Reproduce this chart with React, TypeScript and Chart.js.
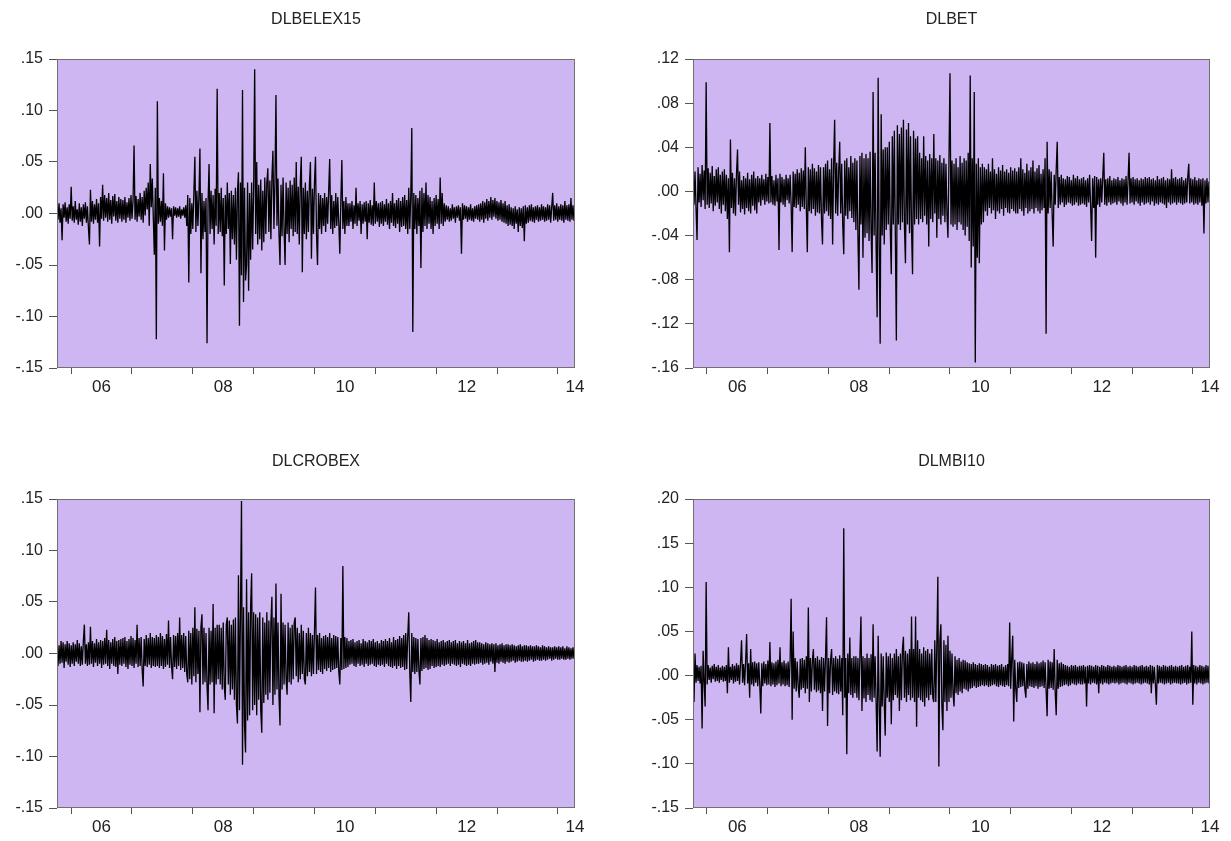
import React, { useEffect, useRef } from "react";
import { Chart, registerables } from "chart.js";

Chart.register(...registerables);

// ---- x axis (dates in fractional years) ----
const FIRST_OBS = 2005.77;
const LAST_OBS = 2014.28;
const YEAR_MARKS = [2006, 2007, 2008, 2009, 2010, 2011, 2012, 2013, 2014];
const YEAR_LABEL_AT = [2006.5, 2008.5, 2010.5, 2012.5, LAST_OBS];
const YEAR_LABELS = ["06", "08", "10", "12", "14"];

// ---- y tick values ----
const Y_TICKS_15 = [-0.15, -0.1, -0.05, 0, 0.05, 0.1, 0.15];
const Y_TICKS_BET = [-0.16, -0.12, -0.08, -0.04, 0, 0.04, 0.08, 0.12];
const Y_TICKS_MBI = [-0.15, -0.1, -0.05, 0, 0.05, 0.1, 0.15, 0.2];

const DLBELEX15 = [
  .008,-.006,.01,-.009,.005,-.026,.009,-.004,.011,-.008,.006,-.01,.009,-.005,.026,-.007,.007,-.009,.012,-.006,.004,-.011,.01,-.008,.006,-.012,.009,-.005,.011,-.009,.007,-.014,
  -.03,.023,-.008,.012,-.01,.009,-.006,.014,-.009,.01,-.032,.016,-.005,.028,-.007,.018,-.004,.015,-.008,.02,-.006,.013,-.01,.017,-.003,.019,-.007,.012,-.009,.016,-.005,.014,
  -.008,.013,-.006,.016,-.009,.011,-.004,.015,-.007,.018,-.005,.012,.066,-.006,.017,-.008,.014,-.003,.02,-.006,.016,-.009,.022,-.002,.025,.004,.03,-.012,.048,.006,.034,-.004,
  -.04,.025,-.122,.109,-.01,.015,-.008,.012,-.012,.039,-.036,.01,-.006,.007,-.004,.006,-.003,.005,-.025,.007,-.002,.006,-.004,.005,-.003,.007,-.005,.004,-.002,.006,-.004,.008,
  -.012,.018,-.067,.015,-.02,.01,-.015,.02,.055,-.018,.022,-.012,.016,.063,-.058,.02,-.025,.012,-.018,.015,-.126,.01,.048,-.02,.022,-.015,.018,-.03,.024,-.012,.121,-.02,
  .02,-.018,.025,-.022,.015,-.07,.018,-.02,.03,-.015,.02,-.049,.022,-.025,.018,-.03,.025,-.045,.02,.04,-.109,.03,-.06,.12,-.086,.025,-.065,-.05,.03,-.075,.02,-.045,
  .03,-.035,.025,.14,-.02,.05,-.03,.028,-.025,.033,-.036,.022,-.028,.035,-.02,.03,.044,-.018,.032,-.025,.035,.061,-.015,.03,.115,-.012,.034,-.02,-.05,.028,-.022,.035,
  -.015,-.05,.03,-.02,.025,-.028,.032,-.015,.028,-.022,.035,-.018,.05,-.02,.026,-.03,.03,.055,-.057,.025,-.02,.03,-.025,.022,-.018,.028,.05,-.044,.024,-.02,.03,.055,
  -.02,-.05,.02,-.015,.018,-.02,.015,-.012,.02,-.018,.016,-.01,.022,.053,-.015,.018,-.02,.012,-.014,.02,-.012,.016,-.01,-.039,.012,.052,-.015,.012,-.02,.016,-.012,.01,
  -.012,.01,-.008,.012,-.015,.008,-.01,.025,-.012,.01,-.007,.012,-.02,.009,-.01,.011,-.008,.012,-.025,.01,-.009,.013,-.011,.008,-.012,.03,-.01,.012,-.008,.01,-.013,.011,
  -.01,.012,-.012,.009,-.008,.014,-.011,.01,-.015,.012,-.009,.02,-.012,.01,-.014,.013,-.01,.015,-.018,.012,-.013,.016,-.012,.018,-.015,.013,-.02,.025,-.015,.018,.083,-.115,
  .02,-.015,.018,-.02,.015,-.012,.022,-.053,.025,-.018,.02,-.012,.03,-.015,.018,-.01,.016,-.015,.012,-.02,.015,-.012,.018,-.01,.014,-.015,.035,-.01,.02,-.012,.01,-.008,
  .008,-.006,.007,-.008,.005,-.007,.009,-.005,.006,-.009,.007,-.004,.008,-.007,.006,-.039,.01,-.006,.008,-.005,.007,-.008,.006,-.006,.009,-.007,.005,-.008,.007,-.005,.008,-.006,
  .009,-.008,.01,-.006,.012,-.009,.011,-.005,.014,-.007,.012,-.004,.016,-.006,.013,-.003,.015,-.005,.012,-.007,.011,-.006,.013,-.008,.01,-.009,.012,-.01,.008,-.012,.009,-.011,
  .006,-.012,.005,-.015,.007,-.01,.004,-.018,.006,-.012,.005,-.014,.007,-.027,.008,-.01,.006,-.009,.008,-.007,.009,-.008,.006,-.009,.007,-.006,.008,-.008,.006,-.007,.009,-.006,
  .007,-.008,.006,-.007,.009,-.006,.008,-.009,.006,.02,-.007,.008,-.006,.01,-.008,.007,-.006,.009,-.007,.008,-.009,.012,-.006,.008,-.007,.009,-.008,.015,-.006,.008,-.007,.005,
];

const DLBET = [
  .02,-.012,.018,-.015,-.044,.022,-.01,.016,-.014,.024,-.008,.019,-.016,.099,-.012,.021,-.015,.017,-.011,.023,-.018,.014,-.013,.02,-.01,.022,-.016,.015,-.02,.018,-.012,.02,
  -.018,.015,-.025,.012,-.055,.047,-.015,.017,-.02,.012,-.022,.016,.038,-.012,.018,-.019,.01,-.016,.014,-.021,.012,-.015,.017,-.018,.011,-.02,.015,-.013,.018,-.017,.012,-.02,
  .014,-.01,.012,-.013,.015,-.008,.011,-.012,.016,-.009,.013,-.011,.062,-.01,.014,-.012,.01,-.013,.015,-.009,.012,-.053,.016,-.01,.013,-.012,.011,-.014,.015,-.008,.012,-.011,
  .015,-.012,-.055,.018,-.014,.016,-.015,.02,-.012,.017,-.018,.021,-.014,.019,-.016,.04,-.015,-.055,.022,-.018,.02,-.02,.025,-.016,.021,-.022,.018,-.019,.024,-.02,.022,-.025,
  -.048,.022,-.02,.025,-.018,.028,-.022,.02,-.025,.03,-.048,.024,.065,-.02,.026,-.022,.018,.045,-.02,.025,-.03,-.057,.028,-.022,.03,-.025,.022,-.018,.032,-.024,.026,-.028,
  .03,-.035,.028,-.04,-.089,.032,-.03,.035,-.06,.03,-.042,.034,-.038,.03,-.045,.036,-.035,-.074,.09,-.04,.035,-.05,-.114,.103,-.045,-.138,.07,-.04,.038,-.048,.04,-.035,
  .04,-.03,.045,-.035,-.075,.05,-.03,.055,-.04,-.135,.06,-.03,.052,-.035,.058,-.028,.065,-.032,-.065,.056,-.03,.062,-.038,.05,-.035,-.075,.055,-.03,.048,-.025,.05,-.03,
  .035,-.025,.03,-.028,.05,-.022,.032,-.03,.028,-.05,.034,-.025,.03,-.028,.052,-.02,.03,-.042,.028,-.025,.033,-.03,.026,-.022,.03,-.028,.025,-.02,-.042,.028,.107,-.03,
  .028,-.032,.025,-.03,.03,-.035,.022,-.028,.032,-.03,.026,-.035,.03,-.04,.028,-.032,.035,-.045,.105,-.069,.03,-.05,.09,-.155,.025,-.06,.03,-.065,.022,-.03,.025,-.028,
  .022,-.018,.02,-.022,.025,-.015,.018,-.02,.03,-.017,.02,-.025,.016,-.018,.022,-.02,.019,-.016,.024,-.022,.018,-.015,.02,-.019,.017,-.02,.022,-.016,.019,-.018,.021,-.02,
  .018,-.02,.022,-.016,.03,-.018,.02,-.022,.017,-.015,.025,-.02,.019,-.018,.022,-.016,.028,-.02,.018,-.015,.021,-.018,.024,-.02,.016,-.017,.02,-.015,.03,-.129,.045,-.02,
  .02,-.015,.018,-.02,-.05,.015,-.012,.02,.045,-.015,.013,-.012,.015,-.01,.012,-.014,.011,-.012,.014,-.01,.013,-.011,.01,-.013,.015,-.012,.012,-.01,.014,-.013,.011,-.012,
  .012,-.011,.013,-.012,.01,-.014,.012,-.01,.015,-.013,-.045,.012,-.015,.014,-.06,.013,-.012,.011,-.014,.012,-.01,.013,.035,-.012,.011,-.013,.012,-.01,.014,-.012,.01,-.011,
  .012,-.01,.011,-.012,.013,-.009,.01,-.011,.012,-.013,.011,-.01,.014,-.012,.01,.035,-.011,.012,-.01,.013,-.012,.011,-.009,.012,-.011,.01,-.013,.012,-.01,.011,-.012,.013,
  -.011,.012,-.01,.013,-.012,.011,-.009,.012,-.013,.01,-.011,.014,-.012,.011,-.01,.012,-.011,.013,-.012,.01,-.015,.012,-.01,.011,-.012,.02,-.011,.012,-.01,.013,-.012,.011,
  -.01,.012,-.011,.013,-.012,.01,-.011,.012,-.01,.013,.025,-.011,.012,-.01,.011,-.012,.013,-.011,.01,-.012,.012,-.01,.011,-.013,.012,-.038,.01,-.011,.012,-.01,.009,-.008,
];

const DLCROBEX = [
  .01,-.012,.008,-.01,.012,-.009,.011,-.014,.009,-.008,.012,-.011,.01,-.013,.008,-.01,.011,-.012,.009,-.008,.013,-.01,.01,-.012,.007,-.011,.012,.028,-.01,.009,-.012,.011,
  -.011,.026,-.01,.012,-.013,.01,-.009,.014,-.012,.011,-.01,.013,-.014,.012,-.011,.015,-.01,.023,-.012,.013,-.015,.011,-.01,.014,-.012,.016,-.013,.012,-.02,.013,-.011,.014,
  -.012,.015,-.01,.016,-.013,.012,-.015,.014,-.011,.017,-.012,.015,-.014,.013,-.01,.028,-.013,.015,-.012,.016,-.015,-.032,.014,-.012,.018,-.013,.015,-.011,.02,-.014,.016,-.012,
  .015,-.013,.018,-.012,.016,-.014,.02,-.012,.017,-.015,.014,-.013,.019,-.011,.032,-.014,.016,-.012,-.025,.018,-.013,.017,-.015,.02,-.012,.035,-.016,.018,-.014,.02,-.018,.017,
  -.02,-.028,.022,-.025,.02,-.03,.025,-.022,.045,-.028,.024,-.02,.022,-.057,.026,.038,-.03,.025,-.028,.02,-.032,-.055,.025,-.03,.022,-.028,.048,-.058,.025,-.03,.028,-.025,
  .028,-.03,.025,-.035,.03,-.032,-.045,.028,.035,-.03,.032,-.04,.028,-.035,.033,-.045,.035,-.05,-.068,.076,-.055,.04,.148,-.108,.045,-.07,-.096,.072,-.065,.04,-.06,.045,
  .078,-.055,.04,-.05,.038,-.06,.035,-.045,.04,-.055,-.077,.035,-.048,.03,-.04,.04,-.045,.032,-.038,.03,.055,-.05,.035,-.04,.068,-.035,.03,-.042,-.07,.058,-.035,.03,
  -.03,.028,-.025,-.04,.03,-.028,.025,-.03,.028,-.025,.03,.035,-.022,.025,-.028,.02,-.025,.028,-.02,.022,-.025,-.03,.02,-.022,.025,-.018,.02,-.022,.018,-.02,.022,.064,
  -.02,.018,-.016,.02,-.018,.015,-.02,.017,-.015,.018,-.017,.016,-.014,.02,-.018,.015,-.016,.018,-.015,.017,-.014,.016,-.018,-.03,.015,-.016,.085,-.015,.016,-.014,.015,-.013,
  .012,-.011,.013,-.01,.014,-.012,.011,-.013,.012,-.01,.013,-.012,.01,-.011,.014,-.013,.012,-.01,.011,-.012,.013,-.011,.012,-.01,.014,-.012,.011,-.013,.012,-.011,.01,-.012,
  .013,-.011,.012,-.013,.014,-.01,.012,-.012,.015,-.013,.011,-.014,.016,-.012,.013,-.015,.014,-.012,.017,-.014,.015,-.013,.018,-.016,.02,-.015,.017,.04,-.018,-.047,.02,-.018,
  .016,-.02,.015,-.018,.014,-.016,-.03,.015,-.017,.016,-.015,.018,-.014,.015,-.016,.013,-.015,.014,-.012,.013,-.014,.012,-.013,.014,-.012,.011,-.013,.012,-.011,.013,-.012,.011,
  -.011,.012,-.01,.013,-.012,.011,-.01,.012,-.011,.013,-.012,.01,-.011,.012,-.013,.011,-.01,.012,-.011,.01,-.012,.013,-.011,.01,-.012,.011,-.01,.012,-.011,.013,-.01,.011,
  -.01,.011,-.009,.01,-.011,.009,-.01,.011,-.009,.01,-.011,.009,-.008,.01,-.01,.009,-.018,.01,-.009,.008,-.01,.009,-.008,.01,-.009,.008,-.01,.009,-.008,.009,-.009,.008,
  -.008,.009,-.007,.008,-.009,.007,-.008,.008,-.007,.009,-.008,.007,-.008,.008,-.007,.008,-.008,.007,-.007,.008,-.006,.007,-.008,.007,-.007,.008,-.006,.007,-.007,.006,-.007,.008,
  -.006,.007,-.007,.006,-.006,.007,-.005,.006,-.007,.006,-.006,.007,-.005,.006,-.006,.007,-.006,.006,-.005,.007,-.006,.005,-.006,.007,-.005,.006,-.006,.005,-.005,.006,-.005,.005,
];

const DLMBI10 = [
  .02,-.03,.025,-.008,.012,-.006,.01,-.009,.011,-.06,.028,-.007,-.035,.106,-.01,.012,-.005,.009,-.008,.011,-.004,.013,-.007,.01,-.006,.012,-.008,.009,-.005,.011,-.007,.01,
  -.006,.012,-.02,.032,-.008,.01,-.005,.013,-.009,.011,-.007,.014,-.006,.012,-.01,.015,.04,-.008,.013,-.011,.016,.047,-.009,.014,-.025,.03,-.01,.015,-.012,.016,-.008,.014,
  -.012,.015,-.01,-.043,.014,-.012,.016,-.009,.013,-.011,.017,-.01,.038,-.012,.015,-.01,.014,-.013,.016,-.011,.018,-.009,.032,-.012,.015,-.01,.017,-.012,.014,-.011,.016,-.013,
  .018,.087,-.05,.05,-.015,.02,-.018,.016,-.012,-.025,.019,-.016,.02,-.014,.018,-.02,.022,-.015,.077,-.03,.02,-.018,.017,.03,-.016,.02,-.019,.022,-.017,.018,-.02,.021,
  -.04,.02,-.018,.022,.066,-.057,.02,-.02,.018,.03,-.022,.02,-.018,.022,-.02,.019,-.021,.023,-.018,.02,-.045,.167,-.025,.02,-.089,.025,-.02,.043,-.022,.02,-.025,.022,
  -.02,.022,-.025,.02,-.028,.024,.067,-.04,.022,-.026,.02,-.03,.025,-.022,.02,-.028,.024,-.03,.058,-.025,.022,-.03,-.086,.045,-.03,-.092,.025,-.035,.022,-.03,-.068,.026,
  -.025,.022,-.03,.025,-.055,.02,-.028,.025,-.022,.03,-.025,.022,-.04,.025,-.028,.03,.044,-.025,.028,-.03,.025,-.022,.03,-.028,.067,-.025,.03,-.03,.067,-.058,.04,-.025,
  .03,-.028,.025,-.03,.032,-.035,.028,-.025,.03,-.028,.025,-.022,.03,-.025,-.03,.04,-.03,.035,.112,-.103,.04,.058,-.035,-.062,.04,-.03,.035,-.04,.045,-.03,.028,-.025,
  .025,-.02,-.035,.022,-.02,.018,-.022,.02,-.018,.016,-.02,.018,-.015,.017,-.016,.015,-.018,.014,-.015,.013,-.014,.015,-.012,.013,-.014,.012,-.013,.014,-.012,.013,-.011,.012,
  -.012,.013,-.011,.012,-.013,.01,-.012,.013,-.011,.012,-.01,.013,-.012,.011,-.013,.012,-.011,.013,-.012,.01,-.013,.012,-.011,.013,-.012,.06,-.015,.02,.045,-.052,.018,-.015,
  -.03,.015,-.014,.016,-.013,.015,-.012,.014,-.015,-.025,.013,-.015,.016,-.012,.014,-.013,.015,-.014,.013,-.012,.016,-.015,.014,-.013,.015,-.012,.017,-.014,.015,-.016,-.046,.018,
  -.015,.016,-.014,.015,-.016,.03,-.018,-.045,.018,-.015,.014,-.013,.015,-.012,.013,-.011,.012,-.01,.011,-.012,.01,-.011,.012,-.009,.011,-.01,.012,-.011,.01,-.009,.011,-.01,
  .011,-.01,.012,-.009,.01,-.035,.011,-.009,.012,-.01,.011,-.008,.01,-.009,.012,-.01,.011,-.02,.01,-.009,.012,-.01,.011,-.008,.01,-.009,.012,-.01,.011,-.009,.01,-.008,
  .011,-.009,.01,-.008,.012,-.01,.011,-.009,.01,-.008,.011,-.009,.012,-.01,.01,-.008,.011,-.009,.01,-.01,.012,-.009,.011,-.008,.01,-.009,.011,-.01,.012,-.009,.01,-.008,
  .011,-.009,.01,-.01,.012,-.02,.011,-.009,.01,-.01,-.033,.012,-.009,.011,-.008,.01,-.009,.012,-.01,.011,-.009,.01,-.008,.011,-.01,.012,-.009,.01,-.008,.011,-.009,.01,
  -.009,.011,-.01,.012,-.009,.01,-.008,.011,-.01,.012,-.009,.01,-.008,.05,-.033,.012,-.009,.011,-.01,.01,-.008,.012,-.009,.011,-.01,.01,-.009,.012,-.008,.011,-.009,.008,
];

// ---- styling ----
const BG = "#CDB6F1";
const FRAME = "#707070";
const TICK_COLOR = "#555555";
const TEXT_COLOR = "#222222";
const LINE_COLOR = "#000000";
const FONT = "'Liberation Sans', Arial, Helvetica, sans-serif";

type PanelSpec = {
  title: string;
  values: number[];
  yTicks: number[];
  left: number;
  top: number;
  width: number;
  height: number;
  plotLeft: number;
  plotRight: number;
  plotTop: number;
  plotBottom: number;
  titleCenter: number;
};

const PANELS: PanelSpec[] = [
  { title: "DLBELEX15", values: DLBELEX15, yTicks: Y_TICKS_15, left: 0, top: 0, width: 615, height: 420,
    plotLeft: 57, plotRight: 575, plotTop: 59, plotBottom: 368, titleCenter: 20 },
  { title: "DLBET", values: DLBET, yTicks: Y_TICKS_BET, left: 616, top: 0, width: 615, height: 420,
    plotLeft: 77, plotRight: 594, plotTop: 59, plotBottom: 368, titleCenter: 20 },
  { title: "DLCROBEX", values: DLCROBEX, yTicks: Y_TICKS_15, left: 0, top: 440, width: 615, height: 401,
    plotLeft: 57, plotRight: 575, plotTop: 59, plotBottom: 368, titleCenter: 22 },
  { title: "DLMBI10", values: DLMBI10, yTicks: Y_TICKS_MBI, left: 616, top: 440, width: 615, height: 401,
    plotLeft: 77, plotRight: 594, plotTop: 59, plotBottom: 368, titleCenter: 22 },
];

function fmtY(v: number): string {
  const s = Number(v).toFixed(2);
  return s.replace(/^(-?)0\./, "$1.");
}

function xLabel(v: number): string {
  for (let k = 0; k < YEAR_LABEL_AT.length; k++) {
    if (Math.abs(YEAR_LABEL_AT[k] - v) < 1e-6) return YEAR_LABELS[k];
  }
  return "";
}

const framePlugin = {
  id: "frameBg",
  beforeDraw(chart: any) {
    const { ctx, chartArea: a } = chart;
    ctx.save();
    ctx.fillStyle = BG;
    ctx.fillRect(a.left, a.top, a.right - a.left, a.bottom - a.top);
    ctx.restore();
  },
  afterDatasetsDraw(chart: any) {
    const { ctx, chartArea: a } = chart;
    ctx.save();
    ctx.strokeStyle = FRAME;
    ctx.lineWidth = 1;
    ctx.strokeRect(Math.round(a.left) + 0.5, Math.round(a.top) + 0.5,
      Math.round(a.right - a.left) - 1, Math.round(a.bottom - a.top) - 1);
    ctx.restore();
  },
};

function Panel({ spec }: { spec: PanelSpec }) {
  const ref = useRef<HTMLCanvasElement | null>(null);
  useEffect(() => {
    if (!ref.current) return;
    const n = spec.values.length;
    const points = spec.values.map((v, i) => ({
      x: FIRST_OBS + ((LAST_OBS - FIRST_OBS) * i) / (n - 1),
      y: v,
    }));
    const titleSize = 16;
    const titleLine = titleSize * 1.2;
    const padTop = spec.titleCenter - titleLine / 2;
    const padBottom = spec.plotTop - padTop - titleLine;
    const xTickValues = [...YEAR_MARKS, ...YEAR_LABEL_AT].sort((a, b) => a - b);
    const yMin = spec.yTicks[0];
    const yMax = spec.yTicks[spec.yTicks.length - 1];

    const chart = new Chart(ref.current, {
      type: "line",
      data: {
        datasets: [
          {
            data: points,
            borderColor: LINE_COLOR,
            borderWidth: 1.3,
            pointRadius: 0,
            borderJoinStyle: "bevel",
            tension: 0,
            fill: false,
          } as any,
        ],
      },
      options: {
        animation: false,
        responsive: false,
        events: [],
        layout: { padding: { left: 0, right: spec.width - spec.plotRight, top: 0, bottom: 0 } },
        plugins: {
          legend: { display: false },
          tooltip: { enabled: false },
          title: {
            display: true,
            text: spec.title,
            color: TEXT_COLOR,
            fullSize: false,
            font: { family: FONT, size: titleSize, weight: "normal" },
            padding: { top: padTop, bottom: padBottom },
          } as any,
        },
        scales: {
          x: {
            type: "linear",
            min: FIRST_OBS,
            max: LAST_OBS,
            afterBuildTicks: (scale: any) => {
              scale.ticks = xTickValues.map((v) => ({ value: v }));
            },
            afterFit: (scale: any) => {
              scale.height = spec.height - spec.plotBottom;
            },
            border: { display: false },
            grid: {
              drawOnChartArea: false,
              drawTicks: true,
              tickLength: 6,
              tickWidth: 1,
              tickColor: (c: any) =>
                c.tick && Number.isInteger(c.tick.value) ? TICK_COLOR : "rgba(0,0,0,0)",
            },
            ticks: {
              autoSkip: false,
              maxRotation: 0,
              minRotation: 0,
              padding: 3,
              color: TEXT_COLOR,
              font: { family: FONT, size: 17 },
              callback: (v: any) => xLabel(Number(v)),
            },
          } as any,
          y: {
            type: "linear",
            min: yMin,
            max: yMax,
            afterBuildTicks: (scale: any) => {
              scale.ticks = spec.yTicks.map((v) => ({ value: v }));
            },
            afterFit: (scale: any) => {
              scale.width = spec.plotLeft;
            },
            border: { display: false },
            grid: {
              drawOnChartArea: false,
              drawTicks: true,
              tickLength: 8,
              tickWidth: 1,
              tickColor: TICK_COLOR,
            },
            ticks: {
              padding: 6,
              color: TEXT_COLOR,
              font: { family: FONT, size: 16 },
              callback: (v: any) => fmtY(Number(v)),
            },
          } as any,
        },
      },
      plugins: [framePlugin],
    });
    return () => chart.destroy();
  }, [spec]);

  return (
    <canvas
      ref={ref}
      width={spec.width}
      height={spec.height}
      style={{
        position: "absolute",
        left: spec.left,
        top: spec.top,
        width: spec.width,
        height: spec.height,
      }}
    />
  );
}

export default function App() {
  return (
    <div
      style={{
        position: "absolute",
        left: 0,
        top: 0,
        width: 1231,
        height: 841,
        background: "#ffffff",
        overflow: "hidden",
      }}
    >
      {PANELS.map((p) => (
        <Panel key={p.title} spec={p} />
      ))}
    </div>
  );
}
